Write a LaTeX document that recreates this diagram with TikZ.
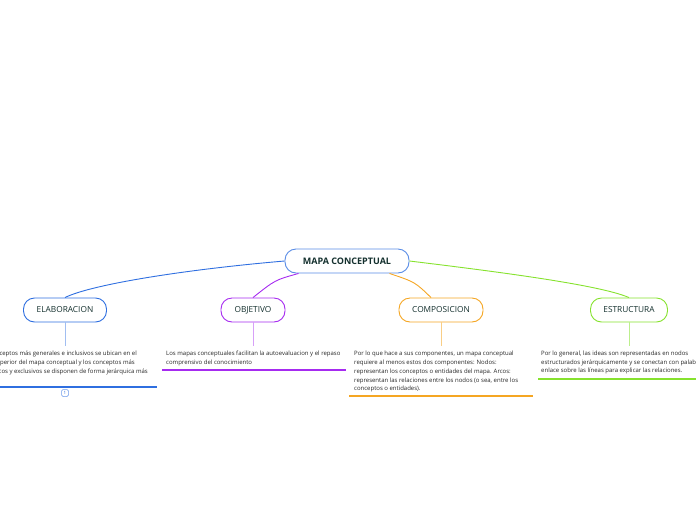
\documentclass[tikz,border=0pt]{standalone}
\usepackage{fontspec}
\setmainfont{Open Sans}
\definecolor{cb}{HTML}{2F6FE0}
\definecolor{cp}{HTML}{A62BF0}
\definecolor{co}{HTML}{F5A623}
\definecolor{cg}{HTML}{86E22E}
\definecolor{tx}{HTML}{14302E}
\begin{document}
\begin{tikzpicture}[x=1pt,y=-1pt,
 box/.style={draw=#1,line width=0.9pt,rounded corners=11pt,minimum height=24pt,font=\fontsize{8.3}{9}\selectfont,text=tx,fill=white},
 txt/.style={anchor=west,inner sep=0pt,font=\fontsize{6}{9}\selectfont,text=black!85},
 txe/.style={txt,anchor=east}]
\useasboundingbox (0,0) rectangle (696,520);
\clip (0,0) rectangle (696,520);
\node[box=cb,minimum width=124pt,draw=cb!80,font=\fontsize{9}{10}\bfseries] (m) at (347,261) {MAPA CONCEPTUAL};
\node[box=cb,minimum width=83pt] (e) at (65,310) {ELABORACION};
\node[box=cp,minimum width=64pt] (o) at (253,310) {OBJETIVO};
\node[box=co,minimum width=84pt] (c) at (441,310) {COMPOSICION};
\node[box=cg,minimum width=77pt] (s) at (629,310) {ESTRUCTURA};
\draw[cb,line width=0.9pt] (m.west) .. controls (180,270) and (90,285) .. (e.north);
\draw[cp,line width=0.9pt] ([xshift=14pt]m.south west) .. controls (275,280) .. (o.north);
\draw[co,line width=0.9pt] ([xshift=-20pt]m.south east) .. controls (415,282) .. ([xshift=-10pt]c.north);
\draw[cg,line width=0.9pt] (m.east) .. controls (500,272) and (600,285) .. (s.north);
\coordinate (e1) at (65,346); \coordinate (o1) at (253,346);
\coordinate (c1) at (441,346); \coordinate (s1) at (629,346);
\draw[cb!45,line width=0.6pt] (e) -- (e1);
\draw[cp!45,line width=0.6pt] (o) -- (o1);
\draw[co!55,line width=0.6pt] (c) -- (c1);
\draw[cg!55,line width=0.6pt] (s) -- (s1);
% texts
\node[txe] (ea) at (137,354) {Los conceptos más generales e inclusivos se ubican en el};
\node[txe] (eb) at (135,363) {extremo superior del mapa conceptual y los conceptos más};
\node[txe] (ec) at (148,372) {específicos y exclusivos se disponen de forma jerárquica más};
\draw[cb,line width=1.2pt] (-5,387) -- (157,387);
\node[draw=cb!70,rounded corners=1.5pt,inner sep=0pt,minimum width=7pt,minimum height=7pt,line width=0.5pt,font=\fontsize{4.5}{5}\selectfont,text=cb] (n1) at (65,393) {1};
\node[txt] (oa) at (166,354) {Los mapas conceptuales facilitan la autoevaluacion y el repaso};
\node[txt] (ob) at (166,363) {comprensivo del conocimiento};
\draw[cp,line width=1.2pt] (162,370) -- (346,370);
\node[txt] (ca) at (354,354) {Por lo que hace a sus componentes, un mapa conceptual};
\node[txt] (cb2) at (354,363) {requiere al menos estos dos componentes: Nodos:};
\node[txt] (cc) at (354,372) {representan los conceptos o entidades del mapa. Arcos:};
\node[txt] (cd) at (354,381) {representan las relaciones entre los nodos (o sea, entre los};
\node[txt] (ce) at (354,389) {conceptos o entidades).};
\draw[co,line width=1.2pt] (349,396) -- (533,396);
\node[txt] (sa) at (541,354) {Por lo general, las ideas son representadas en nodos};
\node[txt] (sb) at (541,363) {estructurados jerárquicamente y se conectan con palabras de};
\node[txt] (sc) at (541,371) {enlace sobre las líneas para explicar las relaciones.};
\draw[cg,line width=1.2pt] (538,379) -- (700,379);
\end{tikzpicture}
\end{document}
